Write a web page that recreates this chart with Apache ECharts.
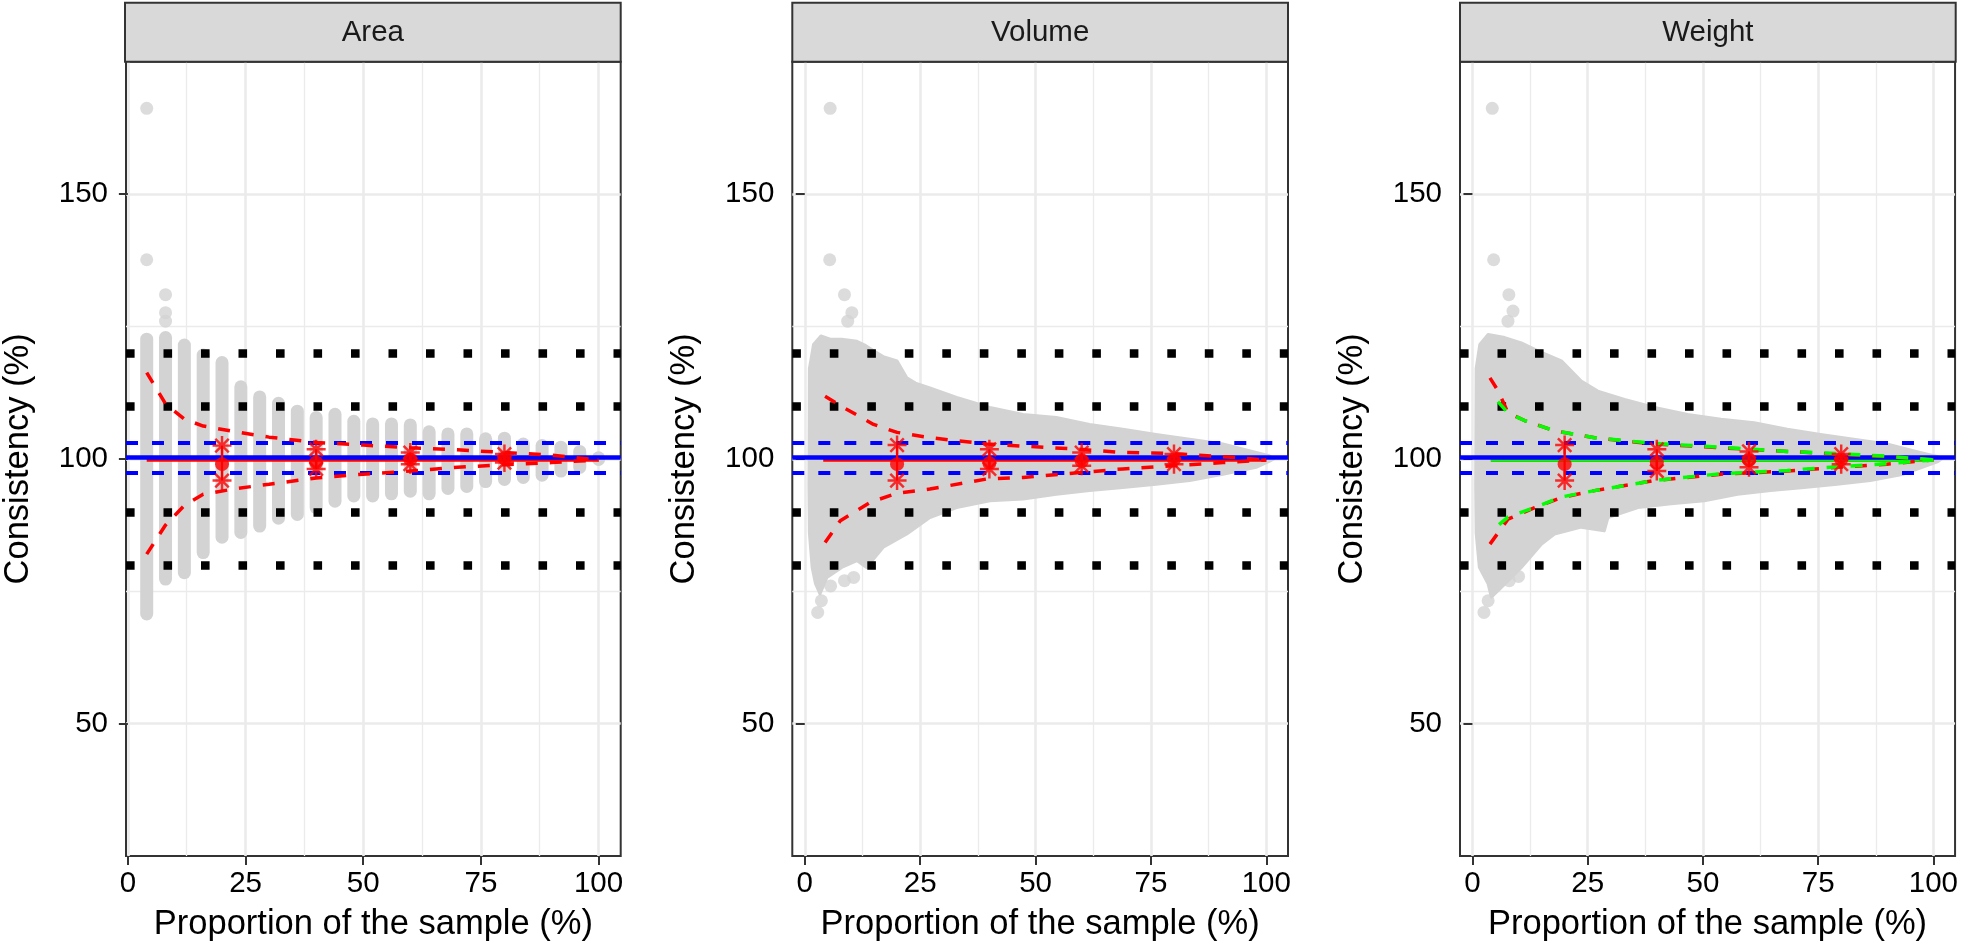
<!DOCTYPE html>
<html>
<head>
<meta charset="utf-8">
<script src="https://cdn.jsdelivr.net/npm/echarts@6/dist/echarts.min.js"></script>
<style>html,body{margin:0;padding:0;background:#fff}#c{width:1961px;height:952px}</style>
</head>
<body>
<div id="c"></div>
<script>
// ---------------- data ----------------
const facets = ['Area', 'Volume', 'Weight'];
const xTickValues = [0, 25, 50, 75, 100];
const yTickValues = [50, 100, 150];
const xMinorGrid = [12.5, 37.5, 62.5, 87.5];
const yMinorGrid = [75, 125];
const dottedRefs = [80, 90, 110, 120];
const blueSolidRef = [100.25];
const blueDashedRefs = [103.0, 97.35];
const xRanges = [[-0.4, 104.7], [-2.7, 104.7], [-2.7, 104.7]];
const yRange = [25, 175];

// Area: column of sampled values at each proportion [x, min, max]
const areaColumns = [
  [4, 70.7, 122.6], [8, 77.3, 122.9], [12, 78.5, 121.5], [16, 82.3, 119.6], [20, 85.2, 118.2],
  [24, 86.1, 113.6], [28, 87.3, 111.7], [32, 88.8, 110.5], [36, 89.5, 109.0], [40, 90.8, 107.8],
  [44, 92.0, 108.4], [48, 93.0, 107.1], [52, 93.0, 106.6], [56, 93.4, 106.6], [60, 93.9, 106.4],
  [64, 93.4, 105.1], [68, 94.4, 104.7], [72, 94.8, 104.7], [76, 95.7, 103.8], [80, 96.1, 103.9],
  [84, 96.5, 102.8], [88, 96.9, 102.5], [92, 97.7, 102.2], [96, 98.4, 101.4], [100, 99.9, 100.2]
];
const areaOutliers = [[4, 166.2], [4, 137.6], [8, 131.0], [8, 127.6], [8, 126.0]];

// Volume / Weight: outer edge of the point cloud
const volUpperEdge = [
  [0.9, 95], [1.0, 117], [1.9, 121.6], [3.5, 123.2], [5.5, 122.6], [8, 122.6], [11.3, 122.2],
  [13, 121.5], [14.9, 120.4], [17, 119.3], [20, 118.5], [22.1, 115.3], [24, 114.3], [27.1, 113.4],
  [32.9, 111.6], [40.1, 109.7], [47.3, 108.4], [54.5, 107.8], [61.7, 106.5], [68.9, 105.6],
  [76.1, 104.6], [83.4, 103.7], [90.6, 102.8], [97.8, 101.2], [100.6, 100.6], [101.6, 100.0]
];
const volLowerEdge = [
  [100.6, 99.5], [97.8, 98.4], [90.6, 97.1], [83.4, 95.9], [76.1, 95.2], [68.9, 94.6], [61.7, 94.0],
  [54.5, 93.3], [47.3, 92.4], [40.1, 92.1], [32.9, 90.8], [27.1, 88.9], [22.1, 85.8], [17.0, 83.3],
  [13.4, 79.5], [11.3, 80.8], [8, 79.5], [4.8, 77.6], [3.3, 74.5], [2.3, 76.5], [1.6, 79.5], [1.0, 86]
];
const volOutliers = [[5.5, 166.2], [5.4, 137.6], [8.6, 131.0], [10.2, 127.6], [9.3, 126.0],
  [2.8, 71.0], [3.6, 73.2], [5.6, 76.0], [8.6, 77.0], [10.6, 77.6]];

const wtUpperEdge = [
  [0.7, 95], [0.8, 117], [1.6, 121.6], [3.4, 123.5], [7.0, 122.9], [10.6, 121.9], [14.2, 120.4],
  [19.3, 118.5], [23.6, 114.7], [27.2, 112.8], [33.0, 111.2], [39.5, 109.7], [46.7, 108.4],
  [53.9, 107.5], [61.1, 106.8], [68.3, 105.6], [75.5, 104.6], [82.7, 103.7], [89.9, 102.8],
  [97.1, 101.2], [101.0, 100.4], [101.8, 100.0]
];
const wtLowerEdge = [
  [101.0, 99.5], [93.5, 97.1], [86.3, 95.9], [79.1, 95.2], [71.9, 94.6], [64.7, 94.0], [57.5, 93.3],
  [50.3, 92.1], [43.1, 91.5], [35.9, 90.8], [29.4, 88.9], [28.6, 86.4], [23.6, 87.1], [17.8, 85.8],
  [15.0, 83.9], [10.6, 79.5], [8.5, 77.6], [4.1, 73.9], [3.4, 76.4], [1.5, 79.5], [0.8, 86]
];
const wtOutliers = [[4.3, 166.2], [4.6, 137.6], [7.9, 131.0], [8.8, 127.9], [7.7, 126.0],
  [2.5, 71.0], [3.4, 73.2], [5.0, 76.0], [8.0, 77.0], [10.0, 77.8]];

// Red dashed envelope curves
const areaCurveUpper = [[4, 116.3], [8, 110.4], [12, 107.5], [16, 106.2], [23, 105.1], [30, 104.1], [40, 103.1],
  [50, 102.6], [60, 102.1], [70, 101.7], [80, 101.2], [90, 100.7], [100, 99.8]];
const areaCurveLower = [[4, 82.0], [8, 87.5], [12, 91.2], [16, 93.3], [23, 94.4], [30, 95.2], [40, 96.4],
  [50, 97.1], [60, 97.7], [70, 98.4], [80, 98.9], [90, 99.3], [100, 99.8]];
const volCurveUpper = [[4.4, 111.8], [8.4, 109.7], [14.9, 106.5], [20, 105.0], [27.1, 104.0], [39.4, 102.8],
  [47.3, 102.4], [59.6, 101.8], [68.9, 101.2], [79.7, 101.0], [90.6, 100.4], [100, 99.8]];
const volCurveLower = [[4.4, 84.2], [7.7, 88.3], [14.2, 91.8], [20, 93.5], [27.1, 94.3], [39.4, 96.2],
  [47.3, 96.5], [59.6, 97.4], [68.9, 98.1], [79.7, 98.7], [90.6, 99.3], [100, 99.8]];
const wtCurveUpper = [[3.8, 115.3], [5.6, 112.8], [7.7, 108.7], [11.4, 107.2], [17.8, 105.3], [26.5, 104.0],
  [39.5, 102.8], [53.9, 102.1], [68.3, 101.4], [79.1, 100.9], [89.9, 100.4], [100, 99.8]];
const wtCurveLower = [[3.8, 83.9], [7.7, 88.6], [13.5, 90.8], [19.3, 92.7], [26.5, 94.0], [39.5, 95.9],
  [53.9, 97.1], [68.3, 97.7], [79.1, 98.4], [89.9, 99.0], [100, 99.8]];
// Green dashed curves (Weight only)
const wtGreenUpper = [[3.8, 112.5], [7.7, 108.7], [11.4, 107.2], [17.8, 105.3], [26.5, 104.0], [39.5, 102.9],
  [53.9, 102.2], [68.3, 101.4], [79.1, 101.0], [89.9, 100.5], [100, 99.8]];
const wtGreenLower = [[3.8, 86.1], [7.7, 89.0], [13.5, 90.8], [19.3, 92.8], [26.5, 94.0], [39.5, 95.9],
  [53.9, 97.2], [68.3, 97.8], [79.1, 98.5], [89.9, 99.1], [100, 99.8]];

// centre lines
const centreLine = [[4, 99.75], [100, 99.75]];

// summary at 20/40/60/80 %
const summaryX = [20, 40, 60, 80];
const areaMean = [99.0, 99.3, 99.9, 100.1], areaLo = [95.9, 98.1, 99.0, 99.3], areaHi = [102.5, 101.8, 101.2, 100.9];
const volMean = [99.0, 99.2, 99.6, 99.9], volLo = [95.9, 98.1, 98.7, 99.0], volHi = [102.6, 101.8, 101.2, 100.9];
const wtMean = [99.0, 99.3, 99.75, 99.9], wtLo = [95.9, 97.7, 98.4, 99.0], wtHi = [102.6, 101.8, 101.4, 100.9];

// ---------------- layout / style ----------------
const FONT = "'Liberation Sans', Arial, Helvetica, sans-serif";
const GRAY = '#D3D3D3';
const PL = [125, 792.3, 1460], PW = 495.7, PT = 61.7, PH = 794.3;
const ASTER = 'path://M0 8.7H20V11.3H0Z M8.7 0H11.3V20H8.7Z M3.85 2.0L18.0 16.15L16.15 18.0L2.0 3.85Z M18.0 3.85L3.85 18.0L2.0 16.15L16.15 2.0Z';

const chart = echarts.init(document.getElementById('c'), null, {renderer: 'canvas'});

const grids = PL.map(l => ({left: l, top: PT, width: PW, height: PH, show: true,
  borderColor: '#333333', borderWidth: 2, backgroundColor: 'transparent'}));

const xAxes = facets.map((f, i) => ({
  gridIndex: i, type: 'value', min: xRanges[i][0], max: xRanges[i][1],
  axisLine: {show: false},
  axisTick: {show: true, customValues: xTickValues, length: 9, lineStyle: {color: '#333333', width: 2}},
  axisLabel: {customValues: xTickValues, margin: 13, fontSize: 29.5, color: '#000', fontFamily: FONT},
  splitLine: {show: true, lineStyle: {color: '#EBEBEB', width: 2.6}},
  name: 'Proportion of the sample (%)', nameLocation: 'middle', nameGap: 51,
  nameTextStyle: {fontSize: 34.5, color: '#000', fontFamily: FONT}
}));
const yAxes = facets.map((f, i) => ({
  gridIndex: i, type: 'value', min: yRange[0], max: yRange[1],
  axisLine: {show: false},
  axisTick: {show: true, customValues: yTickValues, length: 9, lineStyle: {color: '#333333', width: 2}},
  axisLabel: {customValues: yTickValues, margin: 18, fontSize: 29.5, color: '#000', fontFamily: FONT},
  splitLine: {show: true, lineStyle: {color: '#EBEBEB', width: 2.6}},
  name: 'Consistency (%)', nameLocation: 'middle', nameGap: 90,
  nameTextStyle: {fontSize: 34.5, color: '#000', fontFamily: FONT}
}));

const series = [];
const mlBase = {silent: true, symbol: ['none', 'none'], label: {show: false}, animation: false, emphasis: {disabled: true}};

function panelRefs(i) {
  series.push({type: 'line', xAxisIndex: i, yAxisIndex: i, data: [], z: 1,
    markLine: Object.assign({}, mlBase, {z: 1, lineStyle: {color: '#EBEBEB', width: 1.3, type: 'solid'},
      data: xMinorGrid.map(v => ({xAxis: v})).concat(yMinorGrid.map(v => ({yAxis: v})))})});
  series.push({type: 'line', xAxisIndex: i, yAxisIndex: i, data: [], z: 3,
    markLine: Object.assign({}, mlBase, {z: 3, lineStyle: {color: '#000', width: 8.5, type: [8.6, 28.9], cap: 'butt'},
      data: dottedRefs.map(v => ({yAxis: v}))})});
  series.push({type: 'line', xAxisIndex: i, yAxisIndex: i, data: [], z: 5,
    markLine: Object.assign({}, mlBase, {z: 5, lineStyle: {color: '#0000FF', width: 4.5, type: 'solid'},
      data: blueSolidRef.map(v => ({yAxis: v}))})});
  series.push({type: 'line', xAxisIndex: i, yAxisIndex: i, data: [], z: 5,
    markLine: Object.assign({}, mlBase, {z: 5, lineStyle: {color: '#0000FF', width: 3.8, type: [12, 14]},
      data: blueDashedRefs.map(v => ({yAxis: v}))})});
}

function outlierSeries(i, pts) {
  series.push({type: 'scatter', xAxisIndex: i, yAxisIndex: i, data: pts, symbol: 'circle', symbolSize: 13,
    itemStyle: {color: GRAY}, z: 2, silent: true});
}

function cloudSeries(i, upper, lower) {
  series.push({type: 'custom', xAxisIndex: i, yAxisIndex: i, data: [[upper[0][0], upper[0][1]]], z: 2, silent: true,
    renderItem: (p, api) => {
      if (p.dataIndex !== 0) return null;
      const pts = upper.concat(lower).map(d => api.coord(d));
      return {type: 'polygon', shape: {points: pts}, style: {fill: GRAY, stroke: GRAY, lineWidth: 3, lineJoin: 'round'}};
    }});
}

function lineSeries(i, data, color, width, type, z, offset) {
  series.push({type: 'line', xAxisIndex: i, yAxisIndex: i, data: data, showSymbol: false, symbol: 'none',
    lineStyle: {color: color, width: width, type: type, dashOffset: offset || 0, cap: 'butt'}, z: z, silent: true});
}

function summarySeries(i, mean, lo, hi) {
  const bars = summaryX.map((x, k) => [x, lo[k], hi[k]]);
  series.push({type: 'custom', xAxisIndex: i, yAxisIndex: i, data: bars, z: 8, silent: true,
    encode: {x: 0, y: [1, 2]},
    renderItem: (p, api) => {
      const a = api.coord([api.value(0), api.value(1)]);
      const b = api.coord([api.value(0), api.value(2)]);
      return {type: 'line', shape: {x1: a[0], y1: a[1], x2: b[0], y2: b[1]}, style: {stroke: '#FF0000', lineWidth: 2.2}};
    }});
  series.push({type: 'scatter', xAxisIndex: i, yAxisIndex: i, data: summaryX.map((x, k) => [x, mean[k]]),
    symbol: 'circle', symbolSize: 14, itemStyle: {color: '#FF0000'}, z: 9, silent: true});
  series.push({type: 'scatter', xAxisIndex: i, yAxisIndex: i,
    data: summaryX.map((x, k) => [x, lo[k]]).concat(summaryX.map((x, k) => [x, hi[k]])),
    symbol: ASTER, symbolSize: 19, itemStyle: {color: '#FF0000'}, z: 10, silent: true});
}

// Panel 1: Area
series.push({type: 'custom', xAxisIndex: 0, yAxisIndex: 0, data: areaColumns, z: 2, silent: true,
  encode: {x: 0, y: [1, 2]},
  renderItem: (p, api) => {
    const a = api.coord([api.value(0), api.value(1)]);
    const b = api.coord([api.value(0), api.value(2)]);
    return {type: 'line', shape: {x1: a[0], y1: a[1], x2: b[0], y2: b[1]},
      style: {stroke: GRAY, lineWidth: 13, lineCap: 'round'}};
  }});
outlierSeries(0, areaOutliers);
panelRefs(0);
lineSeries(0, centreLine, '#FF0000', 3, 'solid', 4);
lineSeries(0, areaCurveUpper, '#FF0000', 3.5, [12, 12], 6);
lineSeries(0, areaCurveLower, '#FF0000', 3.5, [12, 12], 6);
summarySeries(0, areaMean, areaLo, areaHi);

// Panel 2: Volume
cloudSeries(1, volUpperEdge, volLowerEdge);
outlierSeries(1, volOutliers);
panelRefs(1);
lineSeries(1, centreLine, '#FF0000', 3, 'solid', 4);
lineSeries(1, volCurveUpper, '#FF0000', 3.5, [12, 12], 6);
lineSeries(1, volCurveLower, '#FF0000', 3.5, [12, 12], 6);
summarySeries(1, volMean, volLo, volHi);

// Panel 3: Weight
cloudSeries(2, wtUpperEdge, wtLowerEdge);
outlierSeries(2, wtOutliers);
panelRefs(2);
lineSeries(2, centreLine, '#FF0000', 3, 'solid', 4);
lineSeries(2, centreLine, '#00FF00', 3, 'solid', 4.5);
lineSeries(2, wtCurveUpper, '#FF0000', 3.5, [12, 12], 6);
lineSeries(2, wtCurveLower, '#FF0000', 3.5, [12, 12], 6);
lineSeries(2, wtGreenUpper, '#00FF00', 3.5, [12, 12], 7, 12);
lineSeries(2, wtGreenLower, '#00FF00', 3.5, [12, 12], 7, 12);
summarySeries(2, wtMean, wtLo, wtHi);

const strips = [];
facets.forEach((f, i) => {
  strips.push({type: 'rect', z: 100, shape: {x: PL[i], y: 2.7, width: PW, height: 59},
    style: {fill: '#D9D9D9', stroke: '#333333', lineWidth: 2}});
  strips.push({type: 'text', z: 101, x: PL[i] + PW / 2, y: 33,
    style: {text: f, fontSize: 29.5, fontFamily: FONT, fill: '#1A1A1A',
      textAlign: 'center', textVerticalAlign: 'middle', align: 'center', verticalAlign: 'middle'}});
});

chart.setOption({
  backgroundColor: '#ffffff',
  animation: false,
  grid: grids,
  xAxis: xAxes,
  yAxis: yAxes,
  series: series,
  graphic: strips
});
</script>
</body>
</html>
